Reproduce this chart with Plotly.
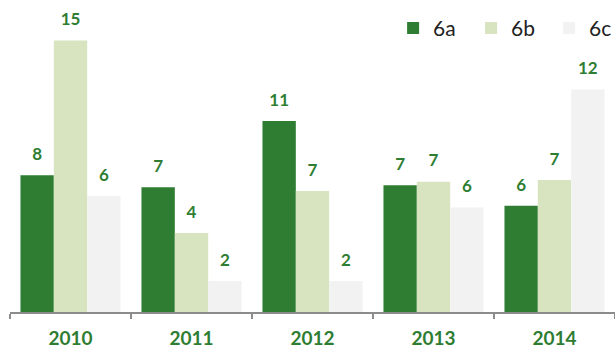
import plotly.graph_objects as go

# Yearly values for the three series
years = ["2010", "2011", "2012", "2013", "2014"]
series_names = ["6a", "6b", "6c"]
values_6a = [7.55, 6.9, 10.55, 7.0, 5.87]
values_6b = [15.0, 4.36, 6.69, 7.2, 7.29]
values_6c = [6.41, 1.71, 1.71, 5.78, 12.3]

colors = ["#2E7D32", "#D8E4BF", "#F2F2F2"]
label_color = "#2E7D32"
font_family = "Lato, 'Open Sans', sans-serif"

fig = go.Figure()

for name, vals, col in zip(series_names, [values_6a, values_6b, values_6c], colors):
    fig.add_trace(go.Bar(
        x=years, y=vals, name=name, offsetgroup=name,
        marker=dict(color=col, line=dict(width=0)),
        hoverinfo="skip",
    ))

# Value labels, grouped to sit above each bar
for name, vals in zip(series_names, [values_6a, values_6b, values_6c]):
    fig.add_trace(go.Scatter(
        x=years, y=vals, offsetgroup=name, mode="markers+text",
        marker=dict(size=16, color="rgba(0,0,0,0)"),
        texttemplate="<b>%{y:.0f}</b>", textposition="top center",
        textfont=dict(family=font_family, size=17, color=label_color),
        showlegend=False, hoverinfo="skip",
    ))

fig.update_layout(
    width=615, height=348,
    margin=dict(l=10, r=0, t=0, b=36, autoexpand=False),
    plot_bgcolor="white", paper_bgcolor="white",
    barmode="group", bargap=0.173, bargroupgap=0,
    scattermode="group", scattergap=0.173,
    font=dict(family=font_family),
    legend=dict(
        orientation="h", x=1.02, xanchor="right", y=0.975, yanchor="top",
        font=dict(family=font_family, size=21, color="#222222"),
        bgcolor="rgba(0,0,0,0)", entrywidth=33, itemwidth=30,
        traceorder="normal",
    ),
    xaxis=dict(
        type="category", showgrid=False, zeroline=False,
        showline=True, linecolor="#8C8C8C", linewidth=2,
        ticks="outside", tickson="boundaries", ticklen=5, tickcolor="#8C8C8C", tickwidth=2,
        tickfont=dict(family=font_family, size=19, color=label_color, weight="bold"),
        ticklabelstandoff=8,
    ),
    yaxis=dict(range=[0, 17.24], visible=False, showgrid=False, zeroline=False),
)

fig.write_html("out.html")
